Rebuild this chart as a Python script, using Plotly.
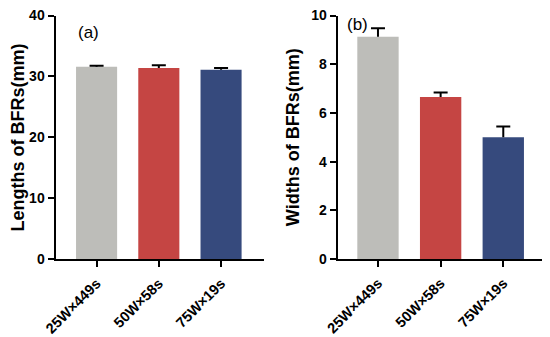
import plotly.graph_objects as go

categories = ["25W×449s", "50W×58s", "75W×19s"]
lengths = [31.6, 31.4, 31.1]
lengths_err = [0.15, 0.45, 0.3]
widths = [9.13, 6.65, 5.0]
widths_err = [0.35, 0.19, 0.44]
colors = ["#BDBDB9", "#C54543", "#364A7D"]

FONT = "Liberation Sans, Arial"
W, H, OFF = 542, 329, 8  # page body margin offsets the figure by 8px

def fx(px):
    return (px - OFF) / W

def fy(py):
    return 1 - (py - OFF) / H

fig = go.Figure()

def add_panel(vals, errs, xa, ya):
    fig.add_trace(go.Bar(x=categories, y=vals, marker=dict(color=colors, line=dict(width=0)),
                         width=0.66, xaxis=xa, yaxis=ya, showlegend=False, hoverinfo="skip"))
    tops = [v + e for v, e in zip(vals, errs)]
    fig.add_trace(go.Scatter(x=categories, y=tops, mode="markers",
                             marker=dict(symbol="line-ew", size=10, line=dict(color="black", width=2)),
                             error_y=dict(type="data", array=[0]*3, arrayminus=errs, symmetric=False,
                                          color="black", thickness=2, width=0),
                             xaxis=xa, yaxis=ya, showlegend=False, hoverinfo="skip"))

add_panel(lengths, lengths_err, "x", "y")
add_panel(widths, widths_err, "x2", "y2")

common_x = dict(showline=True, linecolor="black", linewidth=2, ticks="outside", ticklen=6,
                tickwidth=2, tickcolor="black", tickangle=-45, automargin=False,
                ticklabelstandoff=2,
                tickfont=dict(family=FONT, size=14.5, color="black", weight="bold"),
                showgrid=False, zeroline=False)
common_y = dict(showline=True, linecolor="black", linewidth=2, ticks="outside", ticklen=6,
                tickwidth=2, tickcolor="black", automargin=False, ticklabeloverflow="allow",
                tickfont=dict(family=FONT, size=14, color="black", weight="bold"),
                showgrid=False, zeroline=False)

fig.update_layout(
    width=W, height=H,
    margin=dict(l=0, r=0, t=0, b=0),
    paper_bgcolor="white", plot_bgcolor="white",
    xaxis=dict(domain=[fx(55.5), fx(264)], anchor="y", range=[-0.66, 2.69], **common_x),
    yaxis=dict(domain=[fy(259.3), fy(15.5)], anchor="x", range=[0, 40], dtick=10,
               title=dict(text="Lengths of BFRs(mm)", standoff=5,
                          font=dict(family=FONT, size=18, color="black", weight="bold")),
               **common_y),
    xaxis2=dict(domain=[fx(337.7), fx(545)], anchor="y2", range=[-0.643, 2.666], **common_x),
    yaxis2=dict(domain=[fy(259), fy(15.5)], anchor="x2", range=[0, 10], dtick=2,
                title=dict(text="Widths of BFRs(mm)", standoff=7,
                           font=dict(family=FONT, size=18, color="black", weight="bold")),
                **common_y),
    annotations=[
        dict(text="(a)", x=fx(88), y=fy(32), xref="paper", yref="paper", showarrow=False,
             xanchor="center", yanchor="middle",
             font=dict(family=FONT, size=17, color="black")),
        dict(text="(b)", x=fx(357), y=fy(25), xref="paper", yref="paper", showarrow=False,
             xanchor="center", yanchor="middle",
             font=dict(family=FONT, size=17, color="black")),
    ],
)

fig.write_html("out.html")
